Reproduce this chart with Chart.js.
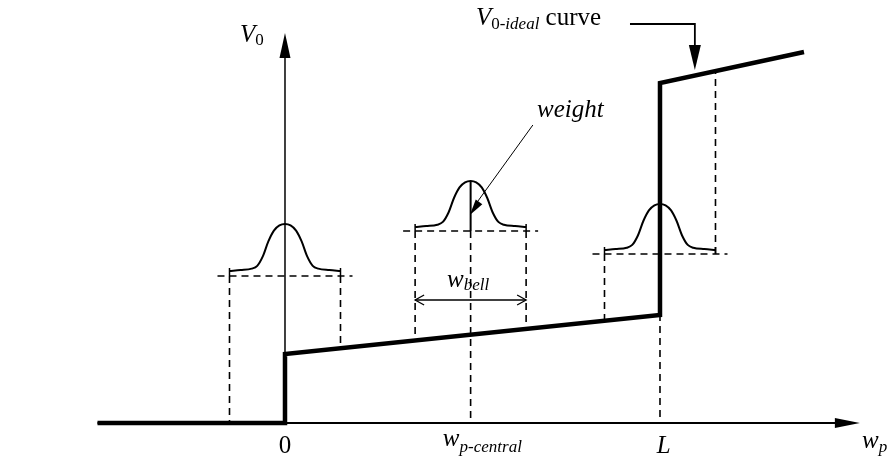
<!DOCTYPE html>
<html>
<head>
<meta charset="utf-8">
<script src="https://cdn.jsdelivr.net/npm/chart.js@4.4.1/dist/chart.umd.min.js"></script>
<style>
  html, body { margin: 0; padding: 0; background: #fff; }
  #wrap { width: 892px; height: 463px; }
</style>
</head>
<body>
<div id="wrap"><canvas id="vChart" width="892" height="463"></canvas></div>
<script>
// ideal V0 curve along w_p (L = 1)
const idealX = [-0.5, 0, 0, 1, 1, 1.384];
const idealY = [0, 0, 0.69, 1.08, 3.40, 3.71];

// weighting bells at 0, w_p-central and L
const bellCenters = [0, 0.495, 1];
const bellHalfWidth = 0.148;
const bellLevel = [1.47, 1.92, 1.69];
const bellTail = [1.52, 1.96, 1.73];
const bellPeak = [1.99, 2.42, 2.19];
// bell shape: offset in half-widths, height as fraction of the peak
const bellShapeU = [-1, -0.8, -0.6, -0.5, -0.4, -0.3, -0.2, -0.1, 0, 0.1, 0.2, 0.3, 0.4, 0.5, 0.6, 0.8, 1];
const bellShapeH = [0, 0.02, 0.05, 0.11, 0.31, 0.63, 0.86, 0.97, 1, 0.97, 0.86, 0.63, 0.31, 0.11, 0.05, 0.02, 0];
// where the bell edges project down onto V0
const dropLeft = [0, 0.82, 1.02];
const dropRight = [0.75, 0.94, 3.51];
const weightBell = 1;

// axis labels under the x axis
const tickLabels = ['0', 'w', 'L'];
const tickSubs = ['', 'p-central', ''];

const serif = '"Liberation Serif", "DejaVu Serif", serif';
const F = {
  main: '25px ' + serif,
  mainI: 'italic 25px ' + serif,
  sub: '17px ' + serif,
  subI: 'italic 17px ' + serif
};

function line(xs, ys, opts) {
  return Object.assign({
    data: xs.map((x, i) => ({ x: x, y: ys[i] })),
    showLine: true,
    pointRadius: 0,
    borderColor: '#000',
    backgroundColor: '#000',
    borderWidth: 1.5,
    borderCapStyle: 'butt',
    borderJoinStyle: 'miter',
    tension: 0
  }, opts || {});
}

const dash = { borderDash: [7, 5], borderWidth: 1.6 };
const datasets = [];

datasets.push(line(idealX, idealY, { borderWidth: 4.5 }));
datasets.push(line([-0.5, 1.5], [0, 0], { borderWidth: 1.8 }));
datasets.push(line([0, 0], [0, 3.8], { borderWidth: 1.5 }));

bellCenters.forEach((c, i) => {
  const l = c - bellHalfWidth, r = c + bellHalfWidth;
  datasets.push(line(
    bellShapeU.map(u => c + u * bellHalfWidth),
    bellShapeH.map(h => bellTail[i] + h * (bellPeak[i] - bellTail[i])),
    { borderWidth: 2, cubicInterpolationMode: 'monotone' }
  ));
  datasets.push(line([l - 0.032, r + 0.032], [bellLevel[i], bellLevel[i]], dash));
  datasets.push(line([l, l], [bellLevel[i], bellTail[i] + 0.03]));
  datasets.push(line([r, r], [bellLevel[i], bellTail[i] + 0.03]));
  datasets.push(line([l, l], [bellLevel[i], dropLeft[i]], dash));
  datasets.push(line([r, r], [bellLevel[i], dropRight[i]], dash));
  // centre projection down to the w_p axis (bell at 0 sits on the V0 axis)
  if (i > 0) datasets.push(line([c, c], [bellLevel[i], 0], dash));
  if (i === weightBell) datasets.push(line([c, c], [bellLevel[i], bellPeak[i]], { borderWidth: 2 }));
});

// callouts
const calloutX = [0.92, 1.093, 1.093];
const calloutY = [3.99, 3.99, 3.62];
const weightPtrX = [0.661, 0.505];
const weightPtrY = [2.98, 2.17];
const widthArrowY = 1.23;
datasets.push(line(calloutX, calloutY, { borderWidth: 1.8 }));
datasets.push(line(weightPtrX, weightPtrY, { borderWidth: 1 }));
datasets.push(line([bellCenters[1] - bellHalfWidth, bellCenters[1] + bellHalfWidth], [widthArrowY, widthArrowY], { borderWidth: 1.5 }));

function drawRich(ctx, parts, x, y, align) {
  let total = 0;
  parts.forEach(p => { ctx.font = p.font; total += ctx.measureText(p.t).width; });
  let cx = align === 'right' ? x - total : align === 'center' ? x - total / 2 : x;
  parts.forEach(p => {
    ctx.font = p.font;
    ctx.fillText(p.t, cx, y + (p.dy || 0));
    cx += ctx.measureText(p.t).width;
  });
}

// filled arrowhead, tip at (tx,ty) pointing away from (fx,fy)
function headFilled(ctx, fx, fy, tx, ty, len, half) {
  const a = Math.atan2(ty - fy, tx - fx);
  ctx.beginPath();
  ctx.moveTo(tx, ty);
  ctx.lineTo(tx - len * Math.cos(a) + half * Math.sin(a), ty - len * Math.sin(a) - half * Math.cos(a));
  ctx.lineTo(tx - len * Math.cos(a) - half * Math.sin(a), ty - len * Math.sin(a) + half * Math.cos(a));
  ctx.closePath();
  ctx.fill();
}

function headOpen(ctx, fx, fy, tx, ty, len, half) {
  const a = Math.atan2(ty - fy, tx - fx);
  ctx.beginPath();
  ctx.moveTo(tx - len * Math.cos(a) + half * Math.sin(a), ty - len * Math.sin(a) - half * Math.cos(a));
  ctx.lineTo(tx, ty);
  ctx.lineTo(tx - len * Math.cos(a) - half * Math.sin(a), ty - len * Math.sin(a) + half * Math.cos(a));
  ctx.stroke();
}

const annotations = {
  id: 'annotations',
  afterDatasetsDraw(chart) {
    const ctx = chart.ctx;
    const X = v => chart.scales.x.getPixelForValue(v);
    const Y = v => chart.scales.y.getPixelForValue(v);
    ctx.save();
    ctx.fillStyle = '#000';
    ctx.strokeStyle = '#000';
    ctx.lineWidth = 1.3;
    ctx.textBaseline = 'alphabetic';

    // axis arrows
    headFilled(ctx, X(1.4), Y(0), X(1.533), Y(0), 25, 5);
    headFilled(ctx, X(0), Y(3.5), X(0), Y(3.90), 25, 5.5);
    // callout arrow to the curve
    headFilled(ctx, X(1.093), Y(3.99), X(1.093), Y(3.53), 25, 6);
    // weight pointer
    headFilled(ctx, X(weightPtrX[0]), Y(weightPtrY[0]), X(0.493), Y(2.08), 16, 4);
    // bell width double arrow
    const l = bellCenters[1] - bellHalfWidth, r = bellCenters[1] + bellHalfWidth;
    headOpen(ctx, X(r), Y(widthArrowY), X(l), Y(widthArrowY), 9, 5);
    headOpen(ctx, X(l), Y(widthArrowY), X(r), Y(widthArrowY), 9, 5);

    // x axis labels
    bellCenters.forEach((c, i) => {
      if (tickSubs[i]) {
        drawRich(ctx, [{ t: tickLabels[i], font: F.mainI }, { t: tickSubs[i], font: F.subI, dy: 6 }], X(0.421), Y(-0.23), 'left');
      } else {
        const font = /\d/.test(tickLabels[i]) ? F.main : F.mainI;
        drawRich(ctx, [{ t: tickLabels[i], font: font }], X(c + (i === 2 ? 0.01 : 0)), Y(-0.30), 'center');
      }
    });
    drawRich(ctx, [{ t: 'w', font: F.mainI }, { t: 'p', font: F.subI, dy: 4 }], X(1.539), Y(-0.25), 'left');

    // y axis label
    drawRich(ctx, [{ t: 'V', font: F.mainI }, { t: '0', font: F.sub, dy: 3 }], X(-0.12), Y(3.81), 'left');

    drawRich(ctx, [
      { t: 'V', font: F.mainI },
      { t: '0', font: F.sub, dy: 4 },
      { t: '-ideal', font: F.subI, dy: 4 },
      { t: ' curve', font: F.main }
    ], X(0.843), Y(3.98), 'right');

    drawRich(ctx, [{ t: 'weight', font: F.mainI }], X(0.672), Y(3.06), 'left');
    drawRich(ctx, [{ t: 'w', font: F.mainI }, { t: 'bell', font: F.subI, dy: 3 }], X(0.432), Y(1.36), 'left');

    ctx.restore();
  }
};

new Chart(document.getElementById('vChart'), {
  type: 'scatter',
  data: { datasets: datasets },
  options: {
    responsive: false,
    animation: false,
    events: [],
    layout: { padding: 0 },
    plugins: { legend: { display: false }, tooltip: { enabled: false } },
    scales: {
      x: { type: 'linear', min: -0.76, max: 1.6187, display: false },
      y: { type: 'linear', min: -0.40, max: 4.23, display: false }
    }
  },
  plugins: [annotations]
});
</script>
</body>
</html>
